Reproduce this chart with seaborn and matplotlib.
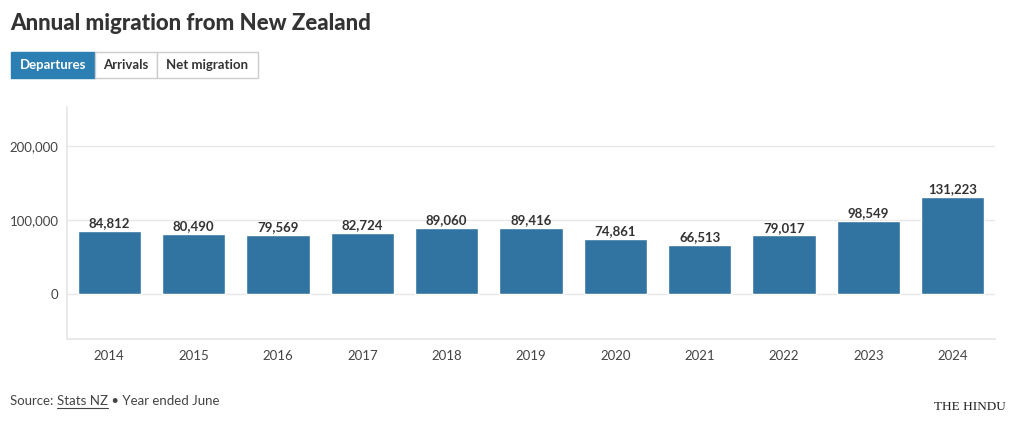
import matplotlib
matplotlib.use("Agg")
import matplotlib.pyplot as plt
import seaborn as sns
import pandas as pd
from matplotlib.patches import Rectangle
from matplotlib.ticker import FuncFormatter

# === data ===
years = ["2014", "2015", "2016", "2017", "2018", "2019", "2020", "2021", "2022", "2023", "2024"]
departures = [84812, 80490, 79569, 82724, 89060, 89416, 74861, 66513, 79017, 98549, 131223]
y_ticks = [0, 100000, 200000]

df = pd.DataFrame({"year": years, "departures": departures})

sns.set_theme(style="white")
plt.rcParams["font.family"] = ["Lato", "DejaVu Sans"]

W, H = 1020, 430
fig = plt.figure(figsize=(W / 100, H / 100), dpi=100)
ax = fig.add_axes([67 / W, 1 - 339 / H, (995 - 67) / W, (339 - 107) / H])

sns.barplot(data=df, x="year", y="departures", color="#3274a1", width=0.75,
            saturation=1, ax=ax, zorder=3)

# value labels
for i, v in enumerate(departures):
    ax.text(i, v + 2500, f"{v:,}", ha="center", va="bottom", fontsize=9.5,
            fontweight="bold", color="#333333")

ax.set_xlim(-0.5, 10.5)
ax.set_ylim(-61000, 252700)
ax.set_yticks(y_ticks)
ax.yaxis.set_major_formatter(FuncFormatter(lambda v, p: f"{int(v):,}"))
ax.grid(axis="y", color="#e8e8e8", linewidth=1, zorder=0)
ax.set_xlabel("")
ax.set_ylabel("")
ax.tick_params(axis="both", labelsize=9.5, labelcolor="#444444", length=0, pad=6)
ax.tick_params(axis="x", pad=8)
for s in ["top", "right"]:
    ax.spines[s].set_visible(False)
ax.spines["left"].set_color("#e6e6e6")
ax.spines["bottom"].set_color("#e6e6e6")

# title
fig.text(10 / W, 1 - 24 / H, "Annual migration from New Zealand", fontsize=16,
         fontweight="black", color="#333333", va="center", ha="left")

# buttons
buttons = [("Departures", 11, 95, True), ("Arrivals", 95, 157, False), ("Net migration", 157, 258, False)]
for label, x0, x1, active in buttons:
    fc = "#2b7fb3" if active else "white"
    tc = "white" if active else "#333333"
    rect = Rectangle((x0 / W, 1 - 78 / H), (x1 - x0) / W, 26 / H, transform=fig.transFigure,
                     facecolor=fc, edgecolor="#cccccc" if not active else fc, linewidth=1)
    fig.patches.append(rect)
    fig.text((x0 + x1) / 2 / W, 1 - 65 / H, label, fontsize=9.5, fontweight="bold",
             color=tc, ha="center", va="center")

# source line, pieces placed by measured width
renderer = fig.canvas.get_renderer()
x = 10
ypos = 1 - 401 / H
for piece, underline in [("Source: ", False), ("Stats NZ", True), (" \u2022 Year ended June", False)]:
    t = fig.text(x / W, ypos, piece, fontsize=9.5, color="#444444", va="center")
    bb = t.get_window_extent(renderer)
    if underline:
        fig.add_artist(plt.Line2D([x / W, (x + bb.width) / W], [1 - 408 / H] * 2,
                                  color="#444444", linewidth=0.8))
    x += bb.width

# logo text
fig.text(970 / W, 1 - 407 / H, "THE HINDU", fontsize=9.5, family="Liberation Serif",
         color="#222222", ha="center", va="center")

plt.savefig("out.png", dpi=100)
